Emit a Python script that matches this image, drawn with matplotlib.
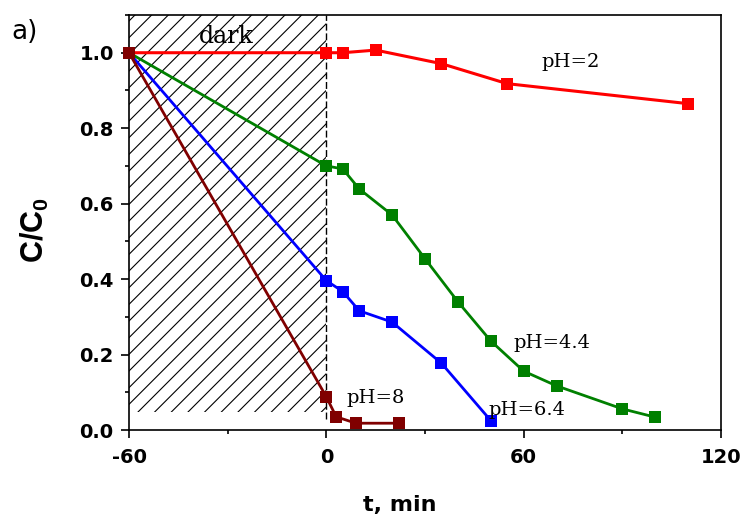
import matplotlib
matplotlib.use("Agg")
import matplotlib.pyplot as plt
from matplotlib.patches import Rectangle
from matplotlib.ticker import MultipleLocator

# data (t in min, C/C0)
t_ph2 = [-60, 0, 5, 15, 35, 55, 110]
c_ph2 = [1.0, 1.0, 1.0, 1.007, 0.971, 0.918, 0.865]

t_ph44 = [-60, 0, 5, 10, 20, 30, 40, 50, 60, 70, 90, 100]
c_ph44 = [1.0, 0.70, 0.692, 0.639, 0.570, 0.454, 0.340, 0.236, 0.156, 0.117, 0.056, 0.034]

t_ph64 = [-60, 0, 5, 10, 20, 35, 50]
c_ph64 = [1.0, 0.396, 0.367, 0.316, 0.286, 0.177, 0.025]

t_ph8 = [-60, 0, 3, 9, 22]
c_ph8 = [1.0, 0.088, 0.035, 0.018, 0.018]

dark_start, dark_end = -60, 0
xticks = [-60, 0, 60, 120]
yticks = [0.0, 0.2, 0.4, 0.6, 0.8, 1.0]

plt.rcParams['font.family'] = 'Liberation Sans'
plt.rcParams['axes.unicode_minus'] = False
plt.rcParams['mathtext.fontset'] = 'custom'
plt.rcParams['mathtext.bf'] = 'Liberation Sans:bold'
plt.rcParams['mathtext.rm'] = 'Liberation Sans:bold'
plt.rcParams['hatch.linewidth'] = 0.8

fig = plt.figure(figsize=(7.46, 5.18), dpi=100)
ax = fig.add_axes([129 / 746, 1 - 430 / 518, 592 / 746, 415 / 518])

# dark period (hatched)
ax.add_patch(Rectangle((dark_start, 0.048), dark_end - dark_start, 1.1 - 0.048,
                       facecolor='none', edgecolor='black', linewidth=0,
                       hatch='//', zorder=1))
ax.vlines(dark_end, 0.03, 1.1, colors='black', linestyles=(0, (5, 2)), linewidth=1.0, zorder=2)

series = [
    (t_ph2, c_ph2, '#ff0000', 2.2),
    (t_ph44, c_ph44, '#008000', 2.0),
    (t_ph64, c_ph64, '#0000ff', 2.0),
    (t_ph8, c_ph8, '#800000', 2.0),
]
for t, c, col, lw in series:
    ax.plot(t, c, color=col, lw=lw, marker='s', markersize=9,
            markeredgewidth=0, zorder=3, clip_on=False)

serif = dict(family='DejaVu Serif', fontsize=14)
ax.text(65.5, 0.976, 'pH=2', va='center', ha='left', **serif)
ax.text(57, 0.231, 'pH=4.4', va='center', ha='left', **serif)
ax.text(49.3, 0.053, 'pH=6.4', va='center', ha='left', **serif)
ax.text(6.1, 0.085, 'pH=8', va='center', ha='left', **serif)
ax.text(-30.5, 1.042, 'dark', va='center', ha='center', family='DejaVu Serif', fontsize=17)

ax.set_xlim(-60, 120)
ax.set_ylim(0, 1.1)
ax.set_xticks(xticks)
ax.set_yticks(yticks)
ax.set_yticklabels([f'{v:.1f}' for v in yticks])
ax.xaxis.set_minor_locator(MultipleLocator(30))
ax.yaxis.set_minor_locator(MultipleLocator(0.1))
ax.tick_params(which='major', direction='out', length=6, width=1.2, pad=5,
               labelsize=14, top=False, right=False)
ax.tick_params(axis='x', which='major', pad=7)
ax.tick_params(which='minor', direction='out', length=3, width=1.2, top=False, right=False)
for lab in ax.get_xticklabels() + ax.get_yticklabels():
    lab.set_fontfamily('DejaVu Sans')
    lab.set_fontweight('bold')
for s in ax.spines.values():
    s.set_linewidth(1.2)

fig.text(400 / 746, 1 - 505 / 518, 't, min', ha='center', va='center',
         family='DejaVu Sans', fontweight='bold', fontsize=16)
fig.text(35 / 746, 1 - 230 / 518, r'$\mathbf{C/C_0}$', ha='center', va='center',
         rotation=90, fontsize=22)
fig.text(11 / 746, 1 - 32 / 518, 'a)', ha='left', va='center',
         family='DejaVu Sans', fontsize=19)

fig.savefig('out.png', dpi=100)
